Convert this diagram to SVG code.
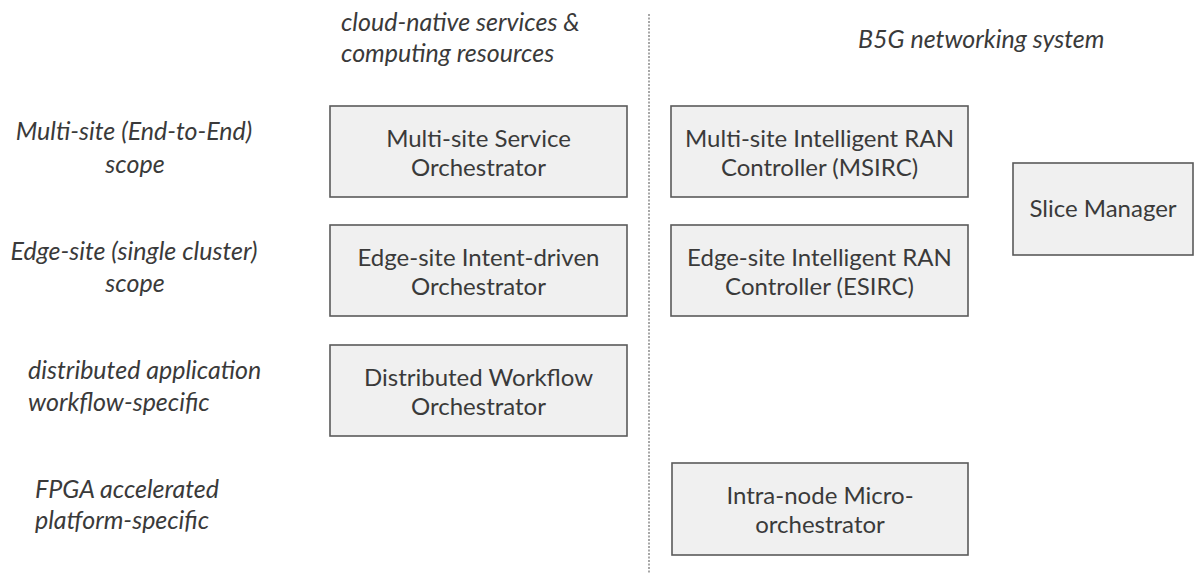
<svg xmlns="http://www.w3.org/2000/svg" width="1198" height="573" viewBox="0 0 1198 573">
<style>
.box{fill:#f0f0f0;stroke:#5a5a5a;stroke-width:1.6}
.t{font-family:Lato,"Open Sans",sans-serif;font-size:24px;fill:#3a3a3a;text-anchor:middle}
.i{font-family:Lato,"Open Sans",sans-serif;font-size:25px;font-style:italic;fill:#3a3a3a}
.m{text-anchor:middle}
</style>
<rect width="1198" height="573" fill="#ffffff"/>
<g id="divider">
<line x1="649" y1="14" x2="649" y2="573" stroke="#8a8a8a" stroke-width="1.5" stroke-dasharray="2,1.5"/>
</g>
<g id="headers">
<text class="i" x="341" y="31">cloud-native services &amp;</text>
<text class="i" x="341" y="62">computing resources</text>
<text class="i" x="858" y="48">B5G networking system</text>
</g>
<g id="scopes">
<text class="i m" x="134" y="140">Multi-site (End-to-End)</text>
<text class="i m" x="135" y="173">scope</text>
<text class="i m" x="134" y="260">Edge-site (single cluster)</text>
<text class="i m" x="135" y="292">scope</text>
<text class="i" x="28" y="379">distributed application</text>
<text class="i" x="28" y="411">workflow-specific</text>
<text class="i" x="35" y="498">FPGA accelerated</text>
<text class="i" x="35" y="529">platform-specific</text>
</g>
<g id="mso">
<rect class="box" x="330" y="106" width="297" height="91"/>
<text class="t" x="478.5" y="147">Multi-site Service</text>
<text class="t" x="478.5" y="176">Orchestrator</text>
</g>
<g id="msirc">
<rect class="box" x="671" y="106" width="297" height="91"/>
<text class="t" x="819.5" y="147">Multi-site Intelligent RAN</text>
<text class="t" x="819.5" y="176">Controller (MSIRC)</text>
</g>
<g id="eido">
<rect class="box" x="330" y="225" width="297" height="91"/>
<text class="t" x="478.5" y="266">Edge-site Intent-driven</text>
<text class="t" x="478.5" y="295">Orchestrator</text>
</g>
<g id="esirc">
<rect class="box" x="671" y="225" width="297" height="91"/>
<text class="t" x="819.5" y="266">Edge-site Intelligent RAN</text>
<text class="t" x="819.5" y="295">Controller (ESIRC)</text>
</g>
<g id="dwo">
<rect class="box" x="330" y="345" width="297" height="91"/>
<text class="t" x="478.5" y="386">Distributed Workflow</text>
<text class="t" x="478.5" y="415">Orchestrator</text>
</g>
<g id="inmo">
<rect class="box" x="672" y="463" width="296" height="92"/>
<text class="t" x="820" y="504">Intra-node Micro-</text>
<text class="t" x="820" y="533">orchestrator</text>
</g>
<g id="slice">
<rect class="box" x="1013" y="163" width="180" height="92"/>
<text class="t" x="1103" y="217">Slice Manager</text>
</g>
</svg>
